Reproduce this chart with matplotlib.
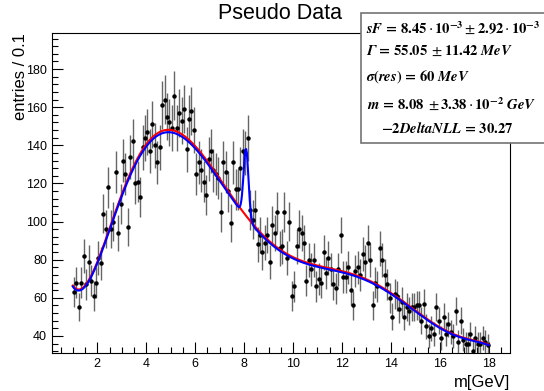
import numpy as np
import matplotlib.pyplot as plt
from matplotlib.patches import Rectangle
from matplotlib.ticker import MultipleLocator

plt.rcParams['font.family'] = ['Liberation Sans', 'DejaVu Sans']
plt.rcParams['mathtext.fontset'] = 'stix'

# bin centres (width 0.1) and entries
bin_lo, bin_hi, bin_w = 1.0, 18.0, 0.1
counts = [
    63, 68, 55, 68, 82, 67, 79, 69, 61, 68,
    81, 78, 104, 96, 118, 96, 100, 126, 94, 109,
    132, 125, 97, 134, 142, 120, 121, 113, 139, 144,
    147, 137, 151, 140, 131, 139, 161, 164, 155, 152,
    149, 166, 149, 157, 153, 159, 138, 154, 158, 148,
    125, 131, 127, 121, 114, 133, 137, 127, 125, 123,
    105, 131, 126, 116, 99, 131, 117, 117, 128, 137,
    136, 144, 106, 101, 106, 88, 93, 84, 89, 93,
    79, 98, 94, 105, 86, 87, 105, 81, 100, 61,
    66, 87, 96, 94, 89, 69, 80, 75, 80, 66,
    70, 68, 84, 73, 81, 75, 67, 65, 75, 93,
    71, 71, 76, 64, 56, 74, 76, 72, 83, 79,
    89, 80, 56, 68, 66, 86, 80, 72, 67, 60,
    50, 62, 61, 54, 58, 50, 55, 53, 55, 55,
    56, 56, 48, 57, 45, 40, 44, 41, 55, 48,
    39, 50, 41, 46, 42, 40, 53, 37, 48, 38,
    36, 36, 41, 32, 39, 36, 36, 39, 37, 35,
]

# fit results shown in the box
sF = 8.45e-3
mass = 8.08
peak_height = 36.0   # visual height of the signal bump
peak_sigma = 0.1

counts = np.array(counts, dtype=float)
x = np.arange(bin_lo + bin_w / 2, bin_hi, bin_w)[:len(counts)]
err = np.sqrt(counts)

# background: smooth polynomial fit to the sidebands
side = (x < 7.6) | (x > 8.6)
bkg = np.polynomial.Chebyshev.fit(x[side], counts[side], 7, w=1 / err[side])
xs = np.linspace(bin_lo, bin_hi, 800)
red = bkg(xs)
blue = (1 - sF) * red + peak_height * np.exp(-0.5 * ((xs - mass) / peak_sigma) ** 2)

fig = plt.figure(figsize=(5.44, 3.91), dpi=100)
ax = fig.add_axes([0.0956, 0.098, 0.842, 0.818])

ax.errorbar(x, counts, yerr=err, fmt='o', ms=2.2, color='black',
            ecolor='0.4', elinewidth=1.0, capsize=0, zorder=3)
ax.plot(xs, red, color='red', lw=1.5, zorder=4)
ax.plot(xs, blue, color='blue', lw=1.5, zorder=5)

ax.set_xlim(0.15, 18.87)
ax.set_ylim(31.2, 199)
ax.xaxis.set_major_locator(MultipleLocator(2))
ax.xaxis.set_minor_locator(MultipleLocator(0.5))
ax.yaxis.set_major_locator(MultipleLocator(20))
ax.yaxis.set_minor_locator(MultipleLocator(4))
ax.tick_params(which='both', direction='in', top=False, right=False,
               labelsize=9, width=0.8)
ax.tick_params(which='major', length=8)
ax.tick_params(which='minor', length=4)
for s in ax.spines.values():
    s.set_linewidth(0.8)

ax.set_xlabel('m[GeV]', fontsize=12, loc='right', labelpad=4)
ax.set_ylabel('entries / 0.1', fontsize=12, loc='top', labelpad=-1)

fig.text(0.515, 0.965, 'Pseudo Data', ha='center', va='center', fontsize=15.5)

# stat box
fig.patches.append(Rectangle((361 / 544, 1 - 143 / 391), 0.4, (143 - 13) / 391,
                             transform=fig.transFigure, facecolor='white',
                             edgecolor='0.45', lw=1.2, zorder=10))
box_lines = [
    (366, 28, r'$\mathbfit{sF}\,\mathbf{=\,8.45}\cdot\mathbf{10^{-3}}\pm\mathbf{2.92}\cdot\mathbf{10^{-3}}$'),
    (366, 51, r'$\mathbfit{\Gamma}\,\mathbf{=\,55.05}\ \pm\mathbf{11.42}\ \mathbfit{MeV}$'),
    (366, 77, r'$\mathbfit{\sigma}\mathbf{(}\mathbfit{res}\mathbf{)\,=\,60}\ \mathbfit{MeV}$'),
    (367, 104, r'$\mathbfit{m}\,\mathbf{=\,8.08}\ \pm\mathbf{3.38}\cdot\mathbf{10^{-2}}\ \mathbfit{GeV}$'),
    (381, 128, r'$\mathbf{-2}\mathbfit{DeltaNLL}\,\mathbf{=\,30.27}$'),
]
for px, py, s in box_lines:
    fig.text(px / 544, 1 - py / 391, s, ha='left', va='center', fontsize=10.5,
             zorder=11)

fig.savefig('out.png', dpi=100)
